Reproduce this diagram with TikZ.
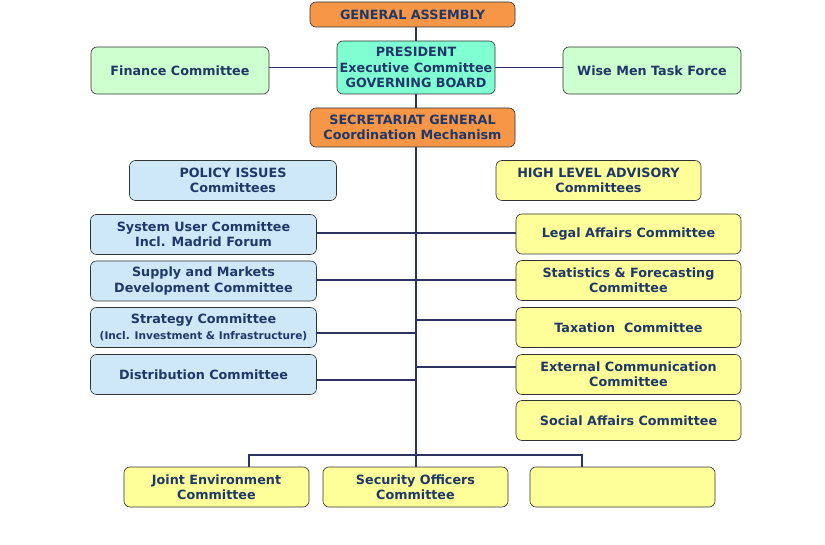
\documentclass[tikz,border=0pt]{standalone}
\usepackage{fontspec}
\setmainfont{DejaVu Sans}
\definecolor{orangebox}{RGB}{247,150,70}
\definecolor{aquabox}{RGB}{128,255,210}
\definecolor{greenbox}{RGB}{206,255,206}
\definecolor{bluebox}{RGB}{206,232,248}
\definecolor{yellowbox}{RGB}{255,255,153}
\definecolor{linecol}{RGB}{46,50,96}
\definecolor{textcol}{RGB}{31,56,105}
\begin{document}
\begin{tikzpicture}[x=1bp,y=-1bp,
  box/.style={draw=black!80, line width=0.6pt, rounded corners=6bp, align=center,
    inner sep=0pt, text=textcol, font=\fontsize{12.8}{15.5}\selectfont\bfseries},
  orangeb/.style={box, fill=orangebox},
  aquab/.style={box, fill=aquabox},
  greenb/.style={box, fill=greenbox},
  blueb/.style={box, fill=bluebox},
  yellowb/.style={box, fill=yellowbox},
  conn/.style={draw=linecol, line width=1.6pt}]
\fill[white] (0,0) rectangle (825,545);
\path[use as bounding box] (0,0) rectangle (825,545);

% top
\node[orangeb, minimum width=205bp, minimum height=25bp] (ga) at (412.5,14.5) {GENERAL ASSEMBLY};
\node[aquab, minimum width=158bp, minimum height=53bp] (pres) at (416,67.5) {PRESIDENT\\Executive Committee\\GOVERNING BOARD};
\node[greenb, minimum width=178bp, minimum height=47bp] (fin) at (180,70.5) {Finance Committee};
\node[greenb, minimum width=178bp, minimum height=47bp] (wise) at (652,70.5) {Wise Men Task Force};
\node[orangeb, minimum width=205bp, minimum height=39bp] (sec) at (412.5,127.5) {SECRETARIAT GENERAL\\Coordination Mechanism};

% headers
\node[blueb, minimum width=207bp, minimum height=40bp] (pol) at (233,180.5) {POLICY ISSUES\\Committees};
\node[yellowb, minimum width=205bp, minimum height=40bp] (hla) at (598.5,180.5) {HIGH LEVEL ADVISORY\\Committees};

% left column
\node[blueb, minimum width=226bp, minimum height=40bp] (sys) at (203.5,234.5) {System User Committee\\Incl. Madrid Forum};
\node[blueb, minimum width=226bp, minimum height=40bp] (sup) at (203.5,281) {Supply and Markets\\Development Committee};
\node[blueb, minimum width=226bp, minimum height=40bp] (str) at (203.5,327.5) {Strategy Committee\\{\fontsize{10.6}{12}\selectfont (Incl. Investment \& Infrastructure)}};
\node[blueb, minimum width=226bp, minimum height=40bp] (dis) at (203.5,374.5) {Distribution Committee};

% right column
\node[yellowb, minimum width=225bp, minimum height=40bp] (leg) at (628.5,234) {Legal Affairs Committee};
\node[yellowb, minimum width=225bp, minimum height=40bp] (sta) at (628.5,280.5) {Statistics \& Forecasting\\Committee};
\node[yellowb, minimum width=225bp, minimum height=40bp] (tax) at (628.5,327.5) {Taxation\ \ Committee};
\node[yellowb, minimum width=225bp, minimum height=40bp] (ext) at (628.5,374.5) {External Communication\\Committee};
\node[yellowb, minimum width=225bp, minimum height=40bp] (soc) at (628.5,420.5) {Social Affairs Committee};

% bottom
\node[yellowb, minimum width=185bp, minimum height=40bp] (joint) at (216.5,487) {Joint Environment\\Committee};
\node[yellowb, minimum width=185bp, minimum height=40bp] (secoff) at (415.5,487) {Security Officers\\Committee};
\node[yellowb, minimum width=185bp, minimum height=40bp] (empty) at (622.5,487) {};

% connectors
\coordinate (bus) at (416,455);
\draw[conn] (pres.north) -- (pres.north |- ga.south);
\draw[conn] (pres.south) -- (pres.south |- sec.north);
\draw[conn] (pres.west) -- (pres.west -| fin.east);
\draw[conn] (pres.east) -- (pres.east -| wise.west);
\draw[conn] (sec.south -| bus) -- (bus);

\draw[conn] ([yshift=1.5bp]sys.east) -- ([yshift=1.5bp]sys.east -| bus);
\draw[conn] ([yshift=1bp]sup.east) -- ([yshift=1bp]sup.east -| bus);
\draw[conn] ([yshift=-5.5bp]str.east) -- ([yshift=-5.5bp]str.east -| bus);
\draw[conn] ([yshift=-5.5bp]dis.east) -- ([yshift=-5.5bp]dis.east -| bus);

\draw[conn] ([yshift=1bp]leg.west) -- ([yshift=1bp]leg.west -| bus);
\draw[conn] ([yshift=0.5bp]sta.west) -- ([yshift=0.5bp]sta.west -| bus);
\draw[conn] ([yshift=7.5bp]tax.west) -- ([yshift=7.5bp]tax.west -| bus);
\draw[conn] ([yshift=7.5bp]ext.west) -- ([yshift=7.5bp]ext.west -| bus);

\draw[conn] ([xshift=32.5bp]joint.north) |- (bus) -| ([xshift=-40.5bp]empty.north);
\draw[conn] (bus) -- (secoff.north -| bus);
\end{tikzpicture}
\end{document}
